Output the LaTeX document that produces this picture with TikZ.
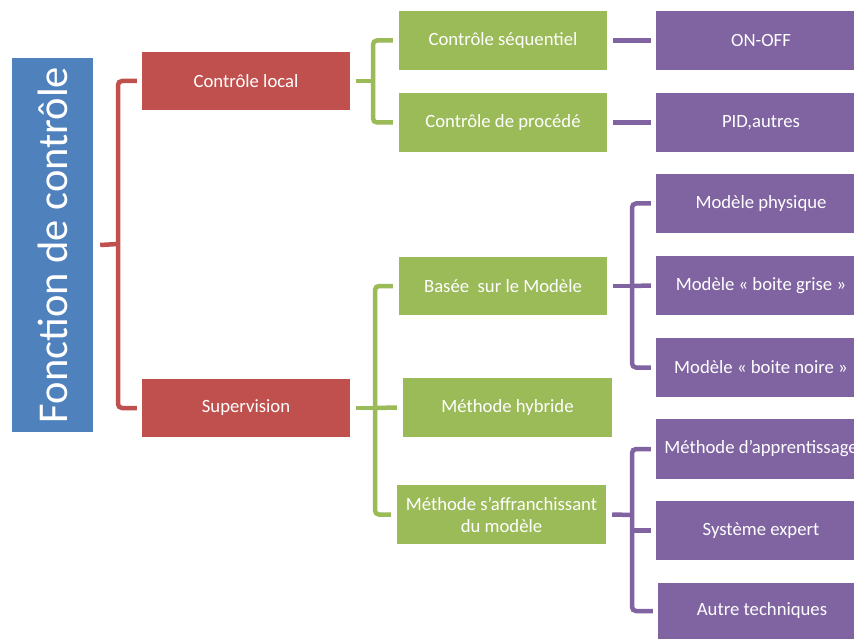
\documentclass[tikz,border=0pt]{standalone}
\usepackage{fontspec}
\setmainfont{Carlito}
\definecolor{cblue}{HTML}{4F81BD}
\definecolor{cred}{HTML}{C0504D}
\definecolor{cgreen}{HTML}{9BBB59}
\definecolor{cpurple}{HTML}{8064A2}
\begin{document}
\begin{tikzpicture}[x=1pt,y=-1pt,
  box/.style={draw=none, inner sep=0pt, text=white, align=center,
    font=\fontsize{18.7}{22}\selectfont},
  rbox/.style={box, fill=cred, minimum width=208pt, minimum height=58pt},
  gbox/.style={box, fill=cgreen, minimum width=208pt, minimum height=59pt},
  pbox/.style={box, fill=cpurple, minimum width=210pt, minimum height=59pt},
  conn/.style={line width=4.5pt, rounded corners=4pt},
  rc/.style={conn, draw=cred},
  gc/.style={conn, draw=cgreen},
  pc/.style={conn, draw=cpurple}]
\useasboundingbox (0,0) rectangle (854,639);
\fill[white] (0,0) rectangle (854,639);
% nodes
\node[box, fill=cblue, minimum width=81pt, minimum height=374pt] (blue) at (52.5,245) {};
\node[text=white, rotate=90, inner sep=0pt, font=\fontsize{42.5}{44}\selectfont] (bluet) at (blue.center) {Fonction de contrôle};
\node[rbox] (loc) at (246,81) {Contrôle local};
\node[rbox] (sup) at (246,408) {Supervision};
\node[gbox] (seq) at (503,40.5) {Contrôle séquentiel};
\node[gbox] (proc) at (503,122.5) {Contrôle de procédé};
\node[gbox, minimum height=58pt] (bas) at (503,286) {Basée\ \ sur le Modèle};
\node[gbox, minimum width=209pt] (hyb) at (507.5,407.5) {Méthode hybride};
\node[gbox, minimum width=209pt] (aff) at (501.5,514.5) {Méthode s’affranchissant\\du modèle};
\node[pbox] (onoff) at (761,40.5) {ON-OFF};
\node[pbox] (pid) at (761,122.5) {PID,autres};
\node[pbox] (mphys) at (761,203.5) {Modèle physique};
\node[pbox] (mgris) at (761,285.5) {Modèle « boite grise »};
\node[pbox] (mnoir) at (761,367.5) {Modèle « boite noire »};
\node[pbox, minimum height=60pt] (mapp) at (761,449) {Méthode d’apprentissage};
\node[pbox] (sexp) at (761,530.5) {Système expert};
\node[pbox, minimum width=208pt, minimum height=56pt] (autre) at (762,611) {Autre techniques};
% spines
\coordinate (r1) at (118,244);
\coordinate (g1) at (373,81);
\coordinate (g2) at (375,408);
\coordinate (p1) at (632,286);
\coordinate (p2) at (632,515);
% red
\draw[rc] ([xshift=7pt]blue.east) -- (r1);
\draw[rc] ([xshift=-5pt]loc.west) -| (r1) |- ([xshift=-5pt]sup.west);
% green top
\draw[gc] ([xshift=6pt]loc.east) -- (g1);
\draw[gc] ([xshift=-6pt]seq.west) -| (g1) |- ([xshift=-6pt]proc.west);
% purple top
\draw[pc] ([xshift=6pt]seq.east) -- ([xshift=-5pt]onoff.west);
\draw[pc] ([xshift=6pt]proc.east) -- ([xshift=-5pt]pid.west);
% green bottom
\draw[gc] ([xshift=6pt]sup.east) -- (g2);
\draw[gc] ([xshift=-6pt]bas.west) -| (g2) |- ([xshift=-6pt]aff.west);
\draw[gc] (g2) -- ([xshift=-6pt]hyb.west);
% purple middle
\draw[pc] ([xshift=6pt]bas.east) -- (p1);
\draw[pc] ([xshift=-5pt]mphys.west) -| (p1) |- ([xshift=-5pt]mnoir.west);
\draw[pc] (p1) -- ([xshift=-5pt]mgris.west);
% purple bottom
\draw[pc] ([xshift=6pt]aff.east) -- (p2);
\draw[pc] ([xshift=-5pt]mapp.west) -| (p2) |- ([xshift=-5pt]autre.west);
\draw[pc] (p2 |- sexp.west) -- ([xshift=-5pt]sexp.west);
\end{tikzpicture}
\end{document}
